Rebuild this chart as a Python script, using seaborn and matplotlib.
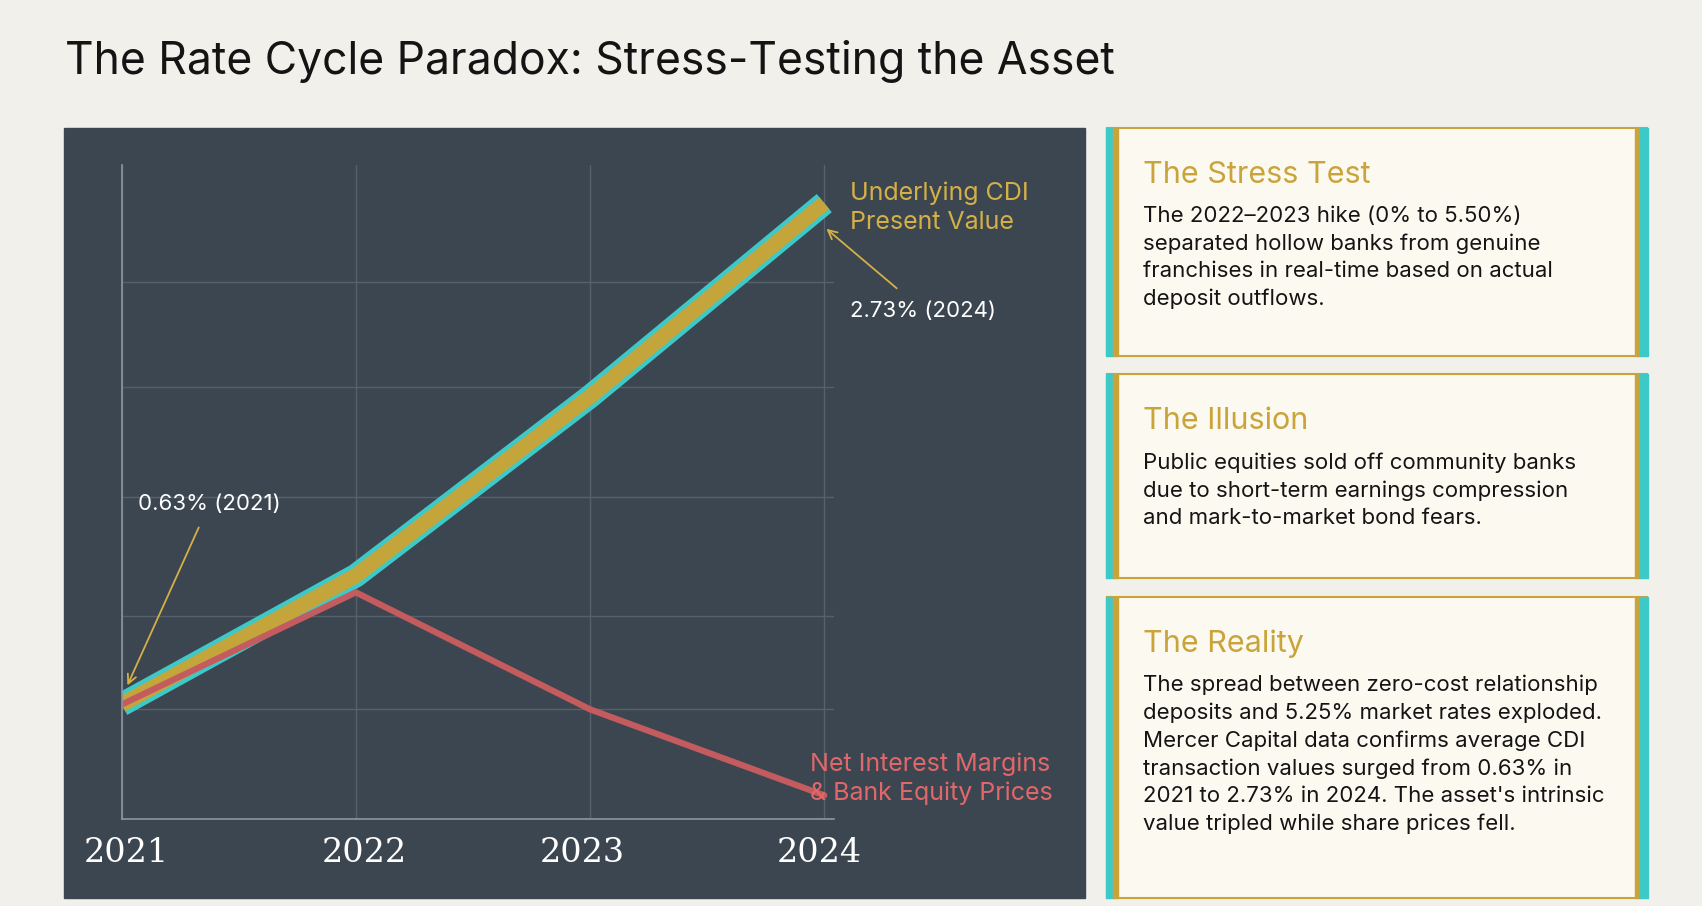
import matplotlib
matplotlib.use("Agg")
import matplotlib.pyplot as plt
import seaborn as sns
import pandas as pd
from matplotlib.patches import Rectangle

years = [2021, 2022, 2023, 2024]
cdi_values = [0.63, 1.17, 1.92, 2.73]
nim_values = [0.63, 1.10, 0.61, 0.25]

sns.set_theme(style="dark")
plt.rcParams['font.family'] = ['Inter', 'DejaVu Sans']

W, H = 1568, 835
def fx(x): return x / W
def fy(y): return 1 - y / H

fig = plt.figure(figsize=(17.02, 9.06), dpi=100)
fig.patch.set_facecolor("#f1f0eb")

fig.text(fx(60), fy(57), "The Rate Cycle Paradox: Stress-Testing the Asset",
         fontsize=32, color="#141414", va="center", ha="left")

fig.patches.append(Rectangle((fx(59), fy(828)), fx(1000)-fx(59), fy(118)-fy(828),
                             transform=fig.transFigure, color="#3c4651", zorder=0))

ax = fig.add_axes([fx(112), fy(755), fx(768)-fx(112), fy(152)-fy(755)])
ax.set_zorder(3)
ax.set_facecolor("#3c4651")
df = pd.DataFrame({"year": years, "cdi": cdi_values, "nim": nim_values})
sns.lineplot(data=df, x="year", y="cdi", ax=ax, color="#3ec9c9", lw=17, solid_capstyle="butt")
sns.lineplot(data=df, x="year", y="cdi", ax=ax, color="#c4a53c", lw=11, solid_capstyle="butt")
sns.lineplot(data=df, x="year", y="nim", ax=ax, color="#c45b5e", lw=4.5)
ax.set_xlim(2021, 2024.04)
ax.set_ylim(0.15, 2.89)
ax.set_xticks(years)
ax.set_xticklabels([])
ax.set_yticks([0.15, 0.61, 1.0, 1.5, 1.96, 2.4])
ax.set_yticklabels([])
ax.grid(True, color="#56616b", lw=1)
ax.set_xlabel(""); ax.set_ylabel("")
for s in ["top", "right"]:
    ax.spines[s].set_visible(False)
for s in ["left", "bottom"]:
    ax.spines[s].set_color("#8a939b")
ax.tick_params(length=0)

for x, y in zip([116, 336, 536, 755], years):
    fig.text(fx(x), fy(786), str(y), fontsize=24, family="DejaVu Serif", color="white",
             ha="center", va="center", zorder=5)

ax.text(2024.11, 2.71, "Underlying CDI\nPresent Value", color="#d4b046", fontsize=18,
        va="center", ha="left", linespacing=1.3, clip_on=False)
ax.annotate("2.73% (2024)", xy=(2024.0, 2.63), xytext=(2024.11, 2.28),
            color="white", fontsize=16, va="center", annotation_clip=False,
            arrowprops=dict(arrowstyle="->", color="#d4b046", lw=1.3, shrinkA=10, shrinkB=2))
ax.annotate("0.63% (2021)", xy=(2021.02, 0.70), xytext=(2021.07, 1.47),
            color="white", fontsize=16, va="center",
            arrowprops=dict(arrowstyle="->", color="#d4b046", lw=1.3, shrinkA=8, shrinkB=2))
ax.text(2023.94, 0.32, "Net Interest Margins\n& Bank Equity Prices", color="#e0686a",
        fontsize=18, va="center", ha="left", linespacing=1.3, clip_on=False)

cards = [
    (118, 328, "The Stress Test",
     "The 2022–2023 hike (0% to 5.50%)\nseparated hollow banks from genuine\nfranchises in real-time based on actual\ndeposit outflows."),
    (345, 533, "The Illusion",
     "Public equities sold off community banks\ndue to short-term earnings compression\nand mark-to-market bond fears."),
    (550, 828, "The Reality",
     "The spread between zero-cost relationship\ndeposits and 5.25% market rates exploded.\nMercer Capital data confirms average CDI\ntransaction values surged from 0.63% in\n2021 to 2.73% in 2024. The asset's intrinsic\nvalue tripled while share prices fell."),
]
x0, x1 = 1020, 1517
for top, bot, head, body in cards:
    fig.patches.append(Rectangle((fx(x0), fy(bot)), fx(x1)-fx(x0), fy(top)-fy(bot),
                                 transform=fig.transFigure, facecolor="#fcf9f1",
                                 edgecolor="#c9a43a", lw=1.5, zorder=1))
    for xa, xb, c in [(1019, 1025, "#3ec9c9"), (1025, 1030, "#c9a43a"),
                      (1506, 1511, "#c9a43a"), (1511, 1518, "#3ec9c9")]:
        fig.patches.append(Rectangle((fx(xa), fy(bot)), fx(xb)-fx(xa), fy(top)-fy(bot),
                                     transform=fig.transFigure, color=c, zorder=2))
    fig.text(fx(1053), fy(top + 43), head, fontsize=22, color="#c9a43a", va="center")
    fig.text(fx(1053), fy(top + 72), body, fontsize=16, color="#141414", va="top",
             linespacing=1.45)

fig.savefig("out.png", dpi=100, facecolor=fig.get_facecolor())
